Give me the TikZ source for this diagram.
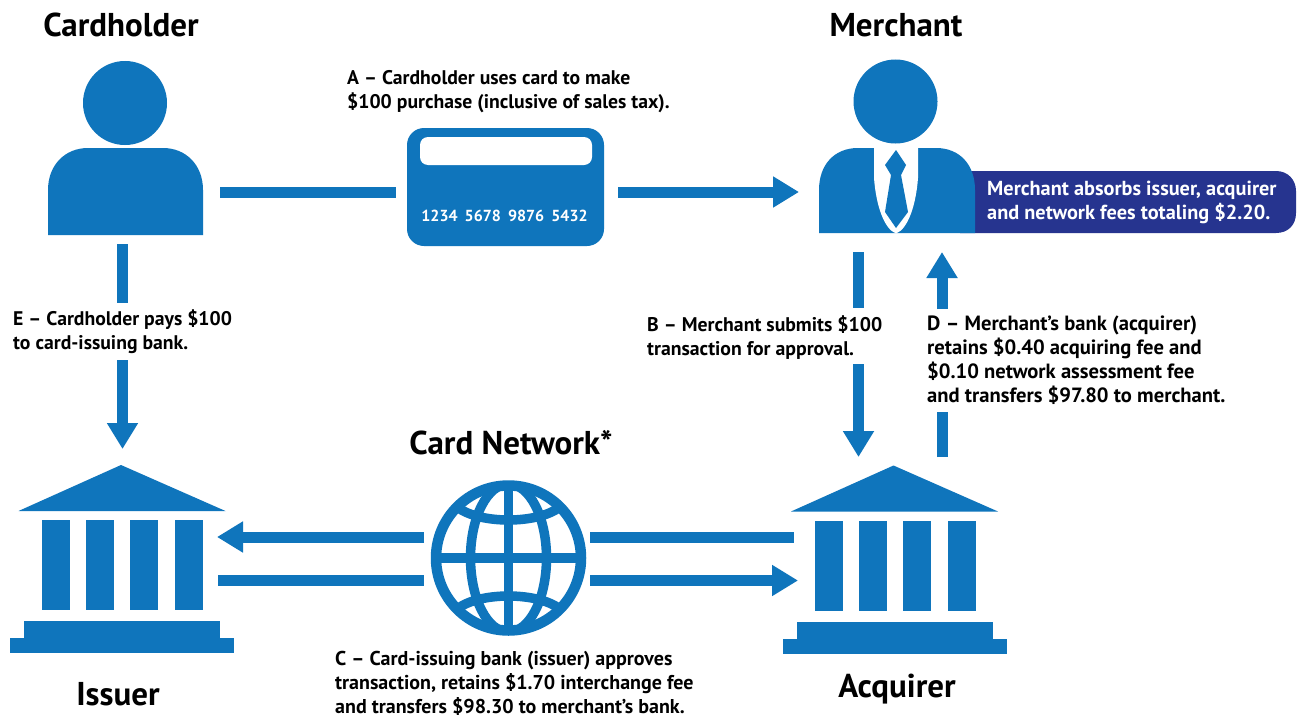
\documentclass[tikz,border=0pt]{standalone}
\usepackage{fontspec}
\setmainfont{PT Sans}
\usetikzlibrary{arrows.meta}
\definecolor{iconblue}{HTML}{0F75BC}
\definecolor{banddark}{HTML}{26348F}
\tikzset{
  x=1pt,y=-1pt,
  link/.style={draw=iconblue,line width=11pt},
  linkarrow/.style={link,-{Triangle[length=26pt,width=29.5pt]}},
  title/.style={font=\fontsize{33}{37}\selectfont\bfseries,text=black,inner sep=0pt},
  note/.style={font=\fontsize{#1}{24}\selectfont\bfseries,text=black,align=left,anchor=west,inner sep=0pt},
  note/.default=20,
  globeline/.style={draw=iconblue,line width=9.5pt},
  bank/.pic={
    \fill[iconblue] (-102.5,46) -- (0,0) -- (104.5,46) -- cycle;
    \foreach \cx in {-79,-35,9,54} \fill[iconblue] (\cx,55) rectangle ++(28,90);
    \fill[iconblue] (-97,156) rectangle (99,173);
    \fill[iconblue] (-111,173) rectangle (113,188);
  }
}
\begin{document}
\begin{tikzpicture}
\useasboundingbox (0,0) rectangle (1300,717);
\fill[white] (0,0) rectangle (1300,717);

% Cardholder
\fill[iconblue] (125,103) circle (42);
\fill[iconblue] (48,235) -- (48,190) .. controls (48,165) and (65,148) .. (88,148) -- (163,148) .. controls (186,148) and (203,165) .. (203,190) -- (203,235) -- cycle;

% Merchant band, behind the figure
\fill[banddark] (960,171) -- (1276,171) .. controls (1288,171) and (1296,180) .. (1296,191) -- (1296,213) .. controls (1296,225) and (1288,233) .. (1276,233) -- (960,233) -- cycle;
% Merchant
\fill[iconblue] (895.5,101.5) circle (42);
\fill[iconblue] (819,233) -- (819,190) .. controls (819,165) and (834,148) .. (858,148) -- (936,148) .. controls (960,148) and (975,165) .. (975,190) -- (975,233) -- cycle;
\fill[white] (874,146) -- (874,178) .. controls (876,205) and (884,229) .. (896,233.5) .. controls (908,229) and (916,205) .. (918,178) -- (918,146) -- cycle;
\fill[iconblue] (896,150) -- (906,165) -- (901,175) -- (908,212) -- (896,228) -- (885,212) -- (891,175) -- (885,165) -- cycle;

% Card
\fill[iconblue] (407,128) [rounded corners=17pt] rectangle (604,246);
\fill[white] (420,137) [rounded corners=8pt] rectangle (592,165);
\node[font=\fontsize{16}{18}\selectfont\bfseries,text=white,inner sep=0pt] (cardnumber) at (504.5,215.5) {1234\hspace{3pt} 5678\hspace{3pt} 9876\hspace{3pt} 5432};

% Banks
\pic at (121,465) {bank};
\pic at (893.5,465.5) {bank};

% Globe
\begin{scope}
\clip (508.5,558) circle (76);
\draw[globeline] (508.5,478) -- (508.5,638);
\draw[globeline] (432,558) -- (585,558);
\draw[globeline] (508.5,558) ellipse (38 and 74);
\draw[globeline] (455,505) .. controls (475,525) and (542,525) .. (562,505);
\draw[globeline] (455,611) .. controls (475,591) and (542,591) .. (562,611);
\end{scope}
\draw[draw=iconblue,line width=10.5pt] (508.5,558) circle (72.5);

% Connector ends
\coordinate (chR) at (220,192);
\coordinate (cardL) at (396,192);
\coordinate (cardR) at (618,192);
\coordinate (mL) at (799,192);
\coordinate (chB) at (122.5,244);
\coordinate (eT) at (122.5,303);
\coordinate (eB) at (122.5,360);
\coordinate (issT) at (122.5,449);
\coordinate (mB) at (858.5,252);
\coordinate (bT) at (858.5,308);
\coordinate (bB) at (858.5,364);
\coordinate (acqTb) at (858.5,457);
\coordinate (acqTd) at (942,457);
\coordinate (dB) at (942,412);
\coordinate (dT) at (942,309);
\coordinate (mD) at (942,252);
\coordinate (gLu) at (424,537);
\coordinate (issRu) at (217,537);
\coordinate (issRl) at (218,580.5);
\coordinate (gLl) at (424,580.5);
\coordinate (gRu) at (590,537);
\coordinate (acqLu) at (794,537);
\coordinate (gRl) at (590,580.5);
\coordinate (acqLl) at (798,580.5);

\draw[link] (chR) -- (cardL);
\draw[linkarrow] (cardR) -- (mL);
\draw[link] (chB) -- (eT);
\draw[linkarrow] (eB) -- (issT);
\draw[link] (mB) -- (bT);
\draw[linkarrow] (bB) -- (acqTb);
\draw[link] (acqTd) -- (dB);
\draw[linkarrow] (dT) -- (mD);
\draw[linkarrow] (gLu) -- (issRu);
\draw[link] (issRl) -- (gLl);
\draw[link] (gRu) -- (acqLu);
\draw[linkarrow] (gRl) -- (acqLl);

% Titles
\node[title] (tCardholder) at (121,25) {Cardholder};
\node[title] (tMerchant) at (896,25) {Merchant};
\node[title] (tNetwork) at (511,443) {Card Network*};
\node[title] (tIssuer) at (118,694) {Issuer};
\node[title] (tAcquirer) at (897,689) {Acquirer};

% Notes
\node[note=19.7] (nA) at (347,91.5) {A – Cardholder uses card to make\\\$100 purchase (inclusive of sales tax).};
\node[note=19.7] (nE) at (13,331.5) {E – Cardholder pays \$100\\to card-issuing bank.};
\node[note=19.75] (nB) at (647,338) {B – Merchant submits \$100\\transaction for approval.};
\node[note=20.6] (nD) at (927,360.5) {D – Merchant’s bank (acquirer)\\retains \$0.40 acquiring fee and\\\$0.10 network assessment fee\\and transfers \$97.80 to merchant.};
\node[note=20] (nC) at (335,683) {C – Card-issuing bank (issuer) approves\\transaction, retains \$1.70 interchange fee\\and transfers \$98.30 to merchant’s bank.};
\node[note=20.3,text=white] (nF) at (987,202.5) {Merchant absorbs issuer, acquirer\\and network fees totaling \$2.20.};
\end{tikzpicture}
\end{document}
